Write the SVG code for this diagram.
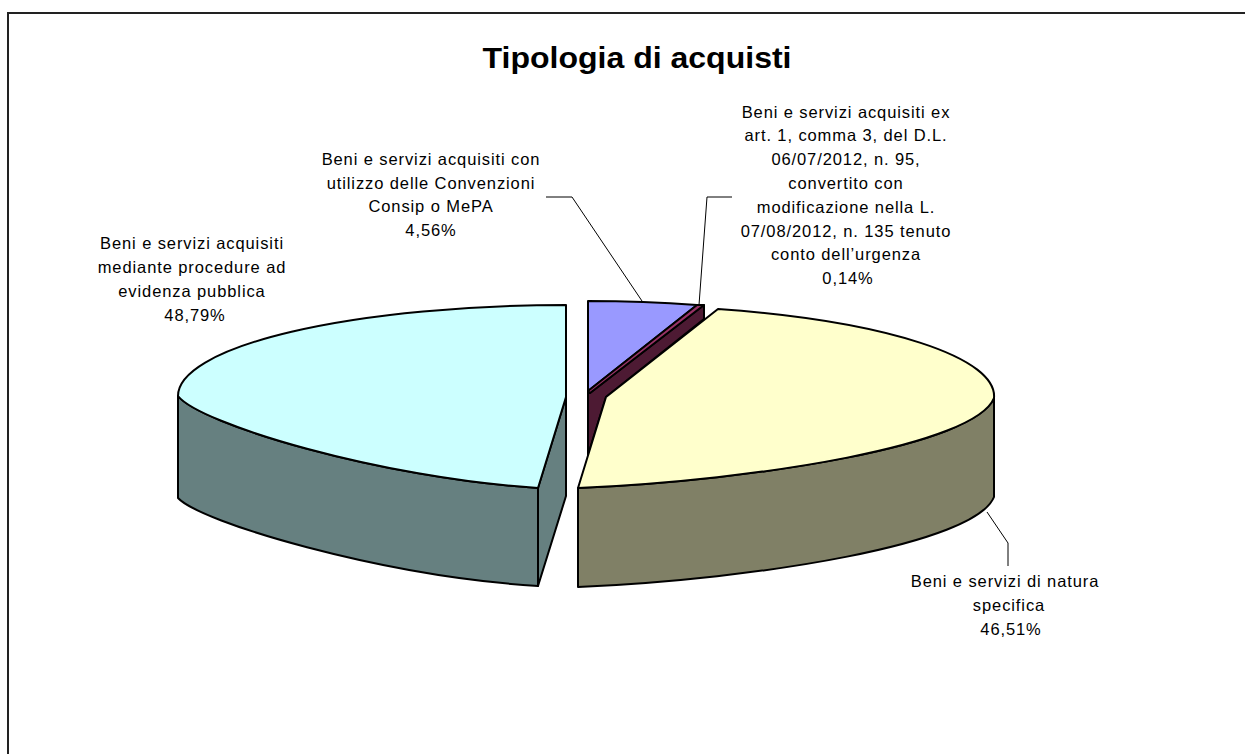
<svg xmlns="http://www.w3.org/2000/svg" width="1245" height="754" viewBox="0 0 1245 754">
<style>
.edge{stroke:#000;stroke-width:2;stroke-linejoin:round}
.lead{fill:none;stroke:#000;stroke-width:1}
.lbl{font-family:"Liberation Sans",Arial,sans-serif;font-size:16.5px;letter-spacing:0.9px;fill:#000;text-anchor:middle}
.title{font-family:"Liberation Sans",Arial,sans-serif;font-size:30px;font-weight:bold;fill:#000;text-anchor:middle}
</style>
<rect x="0" y="0" width="1245" height="754" fill="#fff"/>
<path d="M8,760 V13 H1250" fill="none" stroke="#222" stroke-width="2"/>
<text class="title" x="637" y="68" textLength="309" lengthAdjust="spacingAndGlyphs">Tipologia di acquisti</text>

<g id="slice-evidenza">
  <path class="edge" fill="#668080" d="M178,396 C200,424 380,478 538,488 L538,586 C380,576 200,522 178,498 Z"/>
  <path class="edge" fill="#668080" d="M566,397 L538,488 L538,586 L566,496 Z"/>
  <path class="edge" fill="#CCFFFF" d="M566,305 A389 91 0 0 0 178,396 C200,424 380,478 538,488 L566,397 Z"/>
</g>

<g id="slice-consip">
  <path class="edge" fill="#9999FF" d="M588,301 A388 90 0 0 1 697,305 L588,391 Z"/>
</g>

<g id="slice-urgenza">
  <path class="edge" fill="#4D1A33" d="M590,393 L704,305 L704,319 L606,397 L588,455 L588,391 Z"/>
  <path class="edge" fill="#993366" d="M588,391 L697,305 L704,305 L590,393 Z"/>
</g>

<g id="slice-natura">
  <path class="edge" fill="#808066" d="M994,398 C975,445 760,480 578,488 L578,587 C760,579 975,544 994,497 Z"/>
  <path class="edge" fill="#FFFFCC" d="M606,397 L718,309 A388 91 0 0 1 994,398 C975,445 760,480 578,488 Z"/>
</g>

<g id="connectors">
  <polyline class="lead" points="546,197 572,197 642,301"/>
  <polyline class="lead" points="732,197 707,197 699,305"/>
  <polyline class="lead" points="987,512 1008,543 1008,566"/>
</g>

<g id="label-evidenza">
  <text class="lbl" x="192" y="249">Beni e servizi acquisiti</text>
  <text class="lbl" x="192" y="273">mediante procedure ad</text>
  <text class="lbl" x="192" y="297">evidenza pubblica</text>
  <text class="lbl" x="195" y="321">48,79%</text>
</g>
<g id="label-consip">
  <text class="lbl" x="431" y="165">Beni e servizi acquisiti con</text>
  <text class="lbl" x="431" y="189">utilizzo delle Convenzioni</text>
  <text class="lbl" x="431" y="212">Consip o MePA</text>
  <text class="lbl" x="431" y="236">4,56%</text>
</g>
<g id="label-urgenza">
  <text class="lbl" x="846" y="118">Beni e servizi acquisiti ex</text>
  <text class="lbl" x="846" y="141">art. 1, comma 3, del D.L.</text>
  <text class="lbl" x="846" y="165">06/07/2012, n. 95,</text>
  <text class="lbl" x="846" y="189">convertito con</text>
  <text class="lbl" x="846" y="213">modificazione nella L.</text>
  <text class="lbl" x="846" y="237">07/08/2012, n. 135 tenuto</text>
  <text class="lbl" x="846" y="260">conto dell’urgenza</text>
  <text class="lbl" x="848" y="284">0,14%</text>
</g>
<g id="label-natura">
  <text class="lbl" x="1005" y="587">Beni e servizi di natura</text>
  <text class="lbl" x="1009" y="611">specifica</text>
  <text class="lbl" x="1011" y="635">46,51%</text>
</g>
</svg>
